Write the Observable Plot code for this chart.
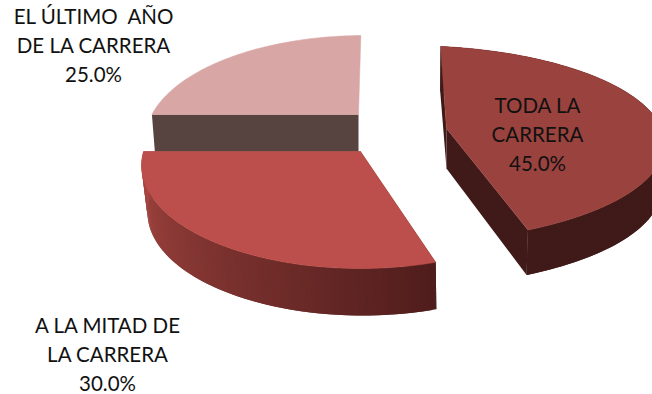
<!DOCTYPE html>
<html><head><meta charset="utf-8">
<style>html,body{margin:0;padding:0;background:#fff}svg{display:block}</style>
<script src="https://cdn.jsdelivr.net/npm/d3@7"></script>
<script src="https://cdn.jsdelivr.net/npm/@observablehq/plot@0.6"></script>
</head><body><div id="c"></div>
<script>
const names = ["TODA LA\nCARRERA", "A LA MITAD DE\nLA CARRERA", "EL ÚLTIMO  AÑO\nDE LA CARRERA"];
const values = [45, 30, 25];
const topColors = ["#9a423e", "#bc4f4b", "#d8a6a5"];
const cutColors = ["#3f1a18", "#4f1e1c", "#574441"];
const sideFrom = ["#3f1a18", "#a84742", "#574441"];
const sideTo = ["#3f1a18", "#4f1d1c", "#574441"];

// Perspective layout of each exploded slice (apex, ellipse of the top face, ellipse of the base)
const geom = [
  {ax:446, ay:128, ex:406, ey:143, rx:258, ry:98,  aspect:2.25, lean:0.072,  bx:406, by:188, brx:255, depthA:40},
  {ax:360, ay:151, ex:360, ey:165, rx:219, ry:103, aspect:2.09, lean:0,      bx:362, by:212, brx:215, depthA:47},
  {ax:358, ay:114, ex:364, ey:139, rx:219, ry:104, aspect:2.09, lean:-0.03,  bx:364, by:176, brx:216, depthA:37}
];
const labelX = [537, 107, 93];
const labelY = [132, 352, 43];

const ends = d3.cumsum(values).map(v => v / d3.sum(values) * 360);
const starts = [0, ...ends.slice(0, -1)];

function phiAt(g, deg) {
  const t = deg * Math.PI / 180;
  const dx = g.aspect * Math.sin(t) - g.lean * Math.cos(t), dy = -Math.cos(t);
  const ox = g.ax - g.ex, oy = g.ay - g.ey;
  const A = dx*dx/(g.rx*g.rx) + dy*dy/(g.ry*g.ry);
  const B = 2*(ox*dx/(g.rx*g.rx) + oy*dy/(g.ry*g.ry));
  const C = ox*ox/(g.rx*g.rx) + oy*oy/(g.ry*g.ry) - 1;
  const s = (-B + Math.sqrt(B*B - 4*A*C)) / (2*A);
  return Math.atan2((g.ay + s*dy - g.ey)/g.ry, (g.ax + s*dx - g.ex)/g.rx);
}
const topPt = (g, deg) => { const p = phiAt(g, deg); return [g.ex + g.rx*Math.cos(p), g.ey + g.ry*Math.sin(p)]; };
const basePt = (g, deg) => { const p = phiAt(g, deg); return [g.bx + g.brx*Math.cos(p), g.by + g.ry*Math.sin(p)]; };

// each entry of layers is one polygon list drawn by its own line mark, in painter's order
const layers = [];
let nid = 0;
const addPoly = (list, pts, color) => {
  const id = nid++;
  [...pts, pts[0]].forEach(p => list.push({id, x:p[0], y:p[1], color}));
};
const degs = (a, b, step) => { const n = Math.ceil((b-a)/step); return d3.range(n+1).map(i => a + (b-a)*i/n); };

// back slice, then front slice, then right slice
[2, 1, 0].forEach(i => {
  const g = geom[i], a = starts[i], b = ends[i];
  const apexBase = [g.ax, g.ay + g.depthA];
  const rim = [], faces = [];
  // cut faces (the back slice shows only the one at its start)
  addPoly(rim, [[g.ax,g.ay], topPt(g,a), basePt(g,a), apexBase], cutColors[i]);
  if (i !== 2) {
    addPoly(rim, [[g.ax,g.ay], topPt(g,b), basePt(g,b), apexBase], cutColors[i]);
    // rim, in narrow overlapping bands drawn from the darker end (hidden on the back slice)
    const ds = degs(a, b, 1);
    const col = d3.interpolateRgb(sideTo[i], sideFrom[i]);
    for (let k = 0; k < ds.length - 1; k++) {
      const e = ds[Math.min(k + 2, ds.length - 1)];
      addPoly(rim, [topPt(g,ds[k]), topPt(g,e), basePt(g,e), basePt(g,ds[k])], col(k/(ds.length-2)));
    }
  }
  // top face
  addPoly(faces, [[g.ax,g.ay], ...degs(a, b, 1).map(d => topPt(g,d))], topColors[i]);
  layers.push(rim, faces);
});

const labels = names.map((n, i) => ({text: `${n}\n${values[i].toFixed(1)}%`, x: labelX[i], y: labelY[i]}));

const chart = Plot.plot({
  width: 652, height: 394,
  margin: 0,
  x: {domain:[0,652], range:[0,652], axis:null},
  y: {domain:[0,394], range:[0,394], axis:null},
  color: {type:"identity"},
  style: {background:"#fff"},
  marks: [
    ...layers.map((l, j) => j % 2 === 0
      ? Plot.line(l, {x:"x", y:"y", z:"id", fill:"color", stroke:"none"})
      : Plot.line(l, {x:"x", y:"y", z:"id", fill:"color", stroke:"color", strokeWidth:0.5})),
    Plot.text(labels, {x:"x", y:"y", text:"text", fontSize:20.5, fontFamily:"Lato", fill:"#111", lineHeight:1.42, lineAnchor:"middle", textAnchor:"middle"})
  ]
});
document.getElementById("c").appendChild(chart);
</script></body></html>
